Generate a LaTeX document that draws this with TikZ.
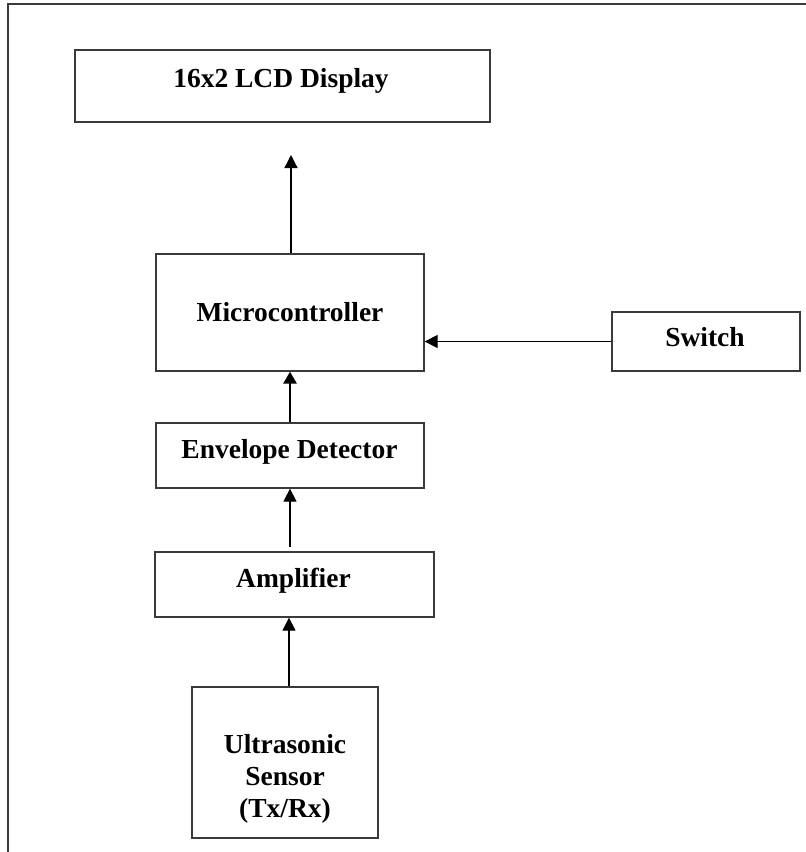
\documentclass[tikz,border=0pt]{standalone}
\usepackage{fontspec}
\setmainfont{Liberation Serif}
\usetikzlibrary{arrows.meta}
\definecolor{edge}{HTML}{3A3A3A}
\tikzset{
  box/.style={draw=edge, line width=1.3pt, rectangle, inner sep=0pt},
  lbl/.style={anchor=base, inner sep=0pt, font=\fontsize{27.5}{32}\selectfont\bfseries},
  arr/.style={draw=black, line width=1.3pt, -{Triangle[length=13pt,width=13pt]}},
  arrthick/.style={draw=black, line width=2.7pt, -{Triangle[length=12pt,width=13pt]}},
  frame/.style={draw=edge, line width=2pt}
}
\begin{document}
\begin{tikzpicture}[x=1pt,y=-1pt]
\useasboundingbox (0,0) rectangle (806,852);
\draw[frame] (8,852) -- (8,4) -- (806,4);

% boxes
\node[box, minimum width=415pt, minimum height=72pt] (lcd) at (282.5,86) {};
\node[box, minimum width=268pt, minimum height=117pt] (micro) at (290,312.5) {};
\node[box, minimum width=188pt, minimum height=59pt] (switch) at (706,341.5) {};
\node[box, minimum width=268pt, minimum height=65pt] (env) at (290,455.5) {};
\node[box, minimum width=279pt, minimum height=65pt] (amp) at (294.5,584.5) {};
\node[box, minimum width=186pt, minimum height=151pt] (sensor) at (285,762.5) {};

% labels
\node[lbl] (lcdt) at (281,87) {16x2 LCD Display};
\node[lbl] (microt) at (290,321) {Microcontroller};
\node[lbl] (switcht) at (705,346) {Switch};
\node[lbl] (envt) at (289.5,458) {Envelope Detector};
\node[lbl] (ampt) at (293.5,587) {Amplifier};
\node[lbl] (s1) at (285,753) {Ultrasonic};
\node[lbl] (s2) at (285,785) {Sensor};
\node[lbl] (s3) at (285,817) {(Tx/Rx)};

% connectors
\coordinate (lcdin) at (291,155);
\draw[arr] (micro.north -| lcdin) -- (lcdin);
\draw[arr] (switch.west) -- (micro.east |- switch.west);
\draw[arrthick] (env.north) -- (micro.south);
\coordinate (ampout) at ([yshift=4pt]amp.north);
\draw[arr] (ampout -| env.south) -- (env.south);
\draw[arr] ([xshift=4pt]sensor.north) -- ([xshift=4pt]sensor.north |- amp.south);
\end{tikzpicture}
\end{document}
